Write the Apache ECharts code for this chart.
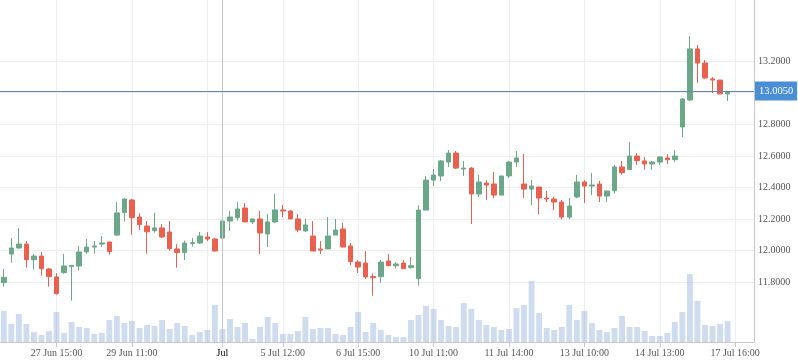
<!DOCTYPE html>
<html>
<head>
<meta charset="utf-8">
<script src="https://cdn.jsdelivr.net/npm/echarts@6/dist/echarts.min.js"></script>
<style>html,body{margin:0;padding:0;background:#fff}#c{width:798px;height:363px}</style>
</head>
<body>
<div id="c"></div>
<script>
const categories = [
'26 Jun 15:00','26 Jun 16:00',
'27 Jun 10:00','27 Jun 11:00','27 Jun 12:00','27 Jun 13:00','27 Jun 14:00','27 Jun 15:00','27 Jun 16:00',
'28 Jun 10:00','28 Jun 11:00','28 Jun 12:00','28 Jun 13:00','28 Jun 14:00','28 Jun 15:00','28 Jun 16:00',
'29 Jun 10:00','29 Jun 11:00','29 Jun 12:00','29 Jun 13:00','29 Jun 14:00','29 Jun 15:00','29 Jun 16:00',
'30 Jun 10:00','30 Jun 11:00','30 Jun 12:00','30 Jun 13:00','30 Jun 14:00','30 Jun 15:00',
'3 Jul 10:00','3 Jul 11:00','3 Jul 12:00','3 Jul 13:00','3 Jul 14:00','3 Jul 15:00',
'5 Jul 10:00','5 Jul 11:00','5 Jul 12:00','5 Jul 13:00','5 Jul 14:00','5 Jul 15:00','5 Jul 16:00',
'6 Jul 10:00','6 Jul 11:00','6 Jul 12:00','6 Jul 13:00','6 Jul 14:00','6 Jul 15:00','6 Jul 16:00',
'7 Jul 10:00','7 Jul 11:00','7 Jul 12:00','7 Jul 13:00','7 Jul 14:00','7 Jul 15:00','7 Jul 16:00',
'10 Jul 10:00','10 Jul 11:00','10 Jul 12:00','10 Jul 13:00','10 Jul 14:00','10 Jul 15:00','10 Jul 16:00',
'11 Jul 10:00','11 Jul 11:00','11 Jul 12:00','11 Jul 13:00','11 Jul 14:00','11 Jul 15:00','11 Jul 16:00',
'12 Jul 10:00','12 Jul 11:00','12 Jul 12:00','12 Jul 13:00','12 Jul 14:00','12 Jul 15:00','12 Jul 16:00',
'13 Jul 10:00','13 Jul 11:00','13 Jul 12:00','13 Jul 13:00','13 Jul 14:00','13 Jul 15:00','13 Jul 16:00',
'14 Jul 10:00','14 Jul 11:00','14 Jul 12:00','14 Jul 13:00','14 Jul 14:00','14 Jul 15:00','14 Jul 16:00',
'17 Jul 10:00','17 Jul 11:00','17 Jul 12:00','17 Jul 13:00','17 Jul 14:00','17 Jul 15:00','17 Jul 16:00',
'18 Jul 10:00','18 Jul 11:00'
];

// [open, close, low, high]
const ohlc = [
[11.798,11.831,11.772,11.884],[11.979,12.017,11.924,12.080],[12.017,12.042,12.011,12.144],[12.042,11.943,11.893,12.061],
[11.943,11.966,11.880,11.979],[11.966,11.886,11.842,11.992],[11.884,11.836,11.772,11.890],[11.834,11.728,11.722,11.859],
[11.861,11.903,11.855,11.979],[11.899,11.907,11.684,11.907],[11.903,11.992,11.874,12.030],[11.992,12.023,11.981,12.074],
[12.023,12.030,11.981,12.061],[12.042,12.049,12.023,12.093],[12.055,11.994,11.975,12.055],[12.099,12.239,12.093,12.308],
[12.241,12.327,12.184,12.334],[12.321,12.209,12.101,12.327],[12.213,12.165,12.131,12.237],[12.156,12.120,11.981,12.188],
[12.127,12.144,12.114,12.239],[12.144,12.087,12.080,12.169],[12.118,12.013,12.000,12.188],[12.011,11.988,11.893,12.042],
[11.988,12.049,11.941,12.064],[12.045,12.051,12.026,12.080],[12.049,12.093,12.042,12.118],[12.087,12.074,12.061,12.118],
[12.074,11.998,11.998,12.080],[12.080,12.188,12.064,12.258],[12.188,12.213,12.125,12.251],[12.209,12.264,12.190,12.308],
[12.270,12.182,12.182,12.302],[12.182,12.201,12.169,12.201],[12.201,12.112,11.979,12.251],[12.106,12.182,12.023,12.232],
[12.182,12.258,12.175,12.359],[12.258,12.251,12.213,12.289],[12.251,12.201,12.201,12.258],[12.201,12.131,12.118,12.232],
[12.125,12.163,12.118,12.201],[12.093,11.998,11.998,12.188],[12.011,12.004,11.979,12.061],[12.011,12.093,12.011,12.213],
[12.099,12.131,12.099,12.201],[12.137,12.023,12.023,12.175],[12.030,11.931,11.910,12.049],[11.928,11.897,11.859,11.941],
[11.922,11.834,11.821,11.998],[11.836,11.829,11.715,11.857],[11.836,11.928,11.797,11.941],[11.935,11.905,11.905,11.979],
[11.905,11.916,11.886,11.928],[11.922,11.886,11.886,11.941],[11.893,11.905,11.886,11.960],[11.823,12.257,11.779,12.287],
[12.257,12.447,12.257,12.473],[12.447,12.479,12.409,12.517],[12.473,12.568,12.441,12.574],[12.561,12.618,12.530,12.637],
[12.618,12.523,12.517,12.631],[12.517,12.523,12.473,12.568],[12.523,12.359,12.169,12.530],[12.359,12.435,12.340,12.479],
[12.428,12.416,12.321,12.447],[12.422,12.352,12.333,12.498],[12.352,12.473,12.352,12.473],[12.473,12.561,12.460,12.568],
[12.561,12.587,12.530,12.631],[12.422,12.390,12.333,12.612],[12.390,12.409,12.289,12.447],[12.403,12.333,12.232,12.403],
[12.333,12.327,12.308,12.378],[12.327,12.308,12.257,12.340],[12.308,12.213,12.201,12.321],[12.213,12.283,12.201,12.333],
[12.340,12.435,12.333,12.479],[12.435,12.409,12.302,12.447],[12.409,12.416,12.352,12.492],[12.422,12.346,12.308,12.441],
[12.346,12.378,12.308,12.378],[12.380,12.530,12.361,12.542],[12.530,12.494,12.481,12.568],[12.513,12.599,12.513,12.688],
[12.599,12.570,12.542,12.618],[12.568,12.549,12.513,12.593],[12.549,12.561,12.513,12.568],[12.561,12.593,12.542,12.599],
[12.587,12.576,12.549,12.612],[12.576,12.599,12.561,12.637],[12.783,12.960,12.720,12.966],[12.954,13.277,12.947,13.359],
[13.277,13.188,13.061,13.302],[13.188,13.093,13.087,13.207],[13.087,13.080,12.998,13.099],[13.080,12.992,12.992,13.080],
[12.992,13.005,12.947,13.007]
];

const volumes = [
31,18,28,18,10,7,11,30,9,20,15,14,8,9,22,26,19,21,14,17,16,22,13,19,16,7,10,12,37,13,
23,15,19,3,15,25,19,8,8,11,25,13,14,14,8,7,15,30,10,19,12,7,5,5,22,27,36,33,22,16,
15,39,33,22,17,15,12,13,34,37,61,29,14,12,15,37,22,31,19,12,10,14,26,15,15,11,6,6,9,20,
30,68,41,17,16,18,21
];

const labelIndices = [7, 17, 29, 37, 47, 57, 67, 77, 87, 97];
const splitIndices = [7, 17, 27, 37, 47, 57, 67, 77, 87, 97];
const monthMarkerIndex = 29;
const monthMarkerLabel = 'Jul';
const priceTicks = { min: 11.8, max: 13.2, step: 0.2 };
const lastPrice = 13.005;

const FONT = 'Liberation Serif';
const UP = '#6aa889', DOWN = '#e9604e';

const chart = echarts.init(document.getElementById('c'), null, { renderer: 'canvas' });
chart.setOption({
  animation: false,
  backgroundColor: '#fff',
  grid: [
    { left: 0, right: 44, top: 0, bottom: 21 },
    { left: 0, right: 44, top: 61.1, bottom: 80.7 }
  ],
  xAxis: [
    {
      type: 'category', gridIndex: 0, data: categories, boundaryGap: true,
      axisLine: { show: true, lineStyle: { color: '#c8c8c8' } },
      axisTick: { show: true, alignWithLabel: true, length: 5, lineStyle: { color: '#c8c8c8' },
        interval: (i) => labelIndices.indexOf(i) >= 0 },
      axisLabel: {
        interval: (i) => labelIndices.indexOf(i) >= 0,
        margin: 6, fontSize: 10, fontFamily: FONT, color: '#555',
        formatter: (v, i) => i === monthMarkerIndex ? '{m|' + monthMarkerLabel + '}' : v,
        rich: { m: { fontSize: 10, fontFamily: FONT, color: '#000' } }
      },
      splitLine: { show: true, alignWithLabel: true, interval: (i) => splitIndices.indexOf(i) >= 0,
        lineStyle: { color: '#eeeeee' } }
    },
    {
      type: 'category', gridIndex: 1, data: categories, boundaryGap: true, show: false
    }
  ],
  yAxis: [
    {
      type: 'value', gridIndex: 0, position: 'right', min: 0, max: 342,
      axisLine: { show: true, lineStyle: { color: '#c8c8c8' } },
      axisTick: { show: false }, axisLabel: { show: false }, splitLine: { show: false }
    },
    {
      type: 'value', gridIndex: 1, position: 'right', min: priceTicks.min, max: priceTicks.max, interval: priceTicks.step,
      axisLine: { show: false }, axisTick: { show: false },
      axisLabel: { margin: 4, fontSize: 10, fontFamily: FONT, color: '#555', formatter: (v) => v.toFixed(4) },
      splitLine: { show: true, lineStyle: { color: '#eeeeee' } }
    }
  ],
  series: [
    {
      type: 'bar', xAxisIndex: 0, yAxisIndex: 0, data: volumes, barWidth: '78%',
      itemStyle: { color: 'rgba(140,172,218,0.42)' }, silent: true,
      markLine: {
        silent: true, symbol: ['none', 'none'], label: { show: false },
        lineStyle: { color: '#c4c4c4', type: 'solid', width: 1 },
        data: [{ xAxis: categories[monthMarkerIndex] }]
      }
    },
    {
      type: 'candlestick', xAxisIndex: 1, yAxisIndex: 1, data: ohlc, barWidth: 5, clip: false,
      itemStyle: { color: UP, color0: DOWN, borderColor: UP, borderColor0: DOWN, borderWidth: 1 },
      markLine: {
        silent: true, symbol: ['none', 'none'],
        lineStyle: { color: '#5a86c0', type: 'solid', width: 1 },
        label: { show: true, position: 'end', distance: 1, formatter: () => lastPrice.toFixed(4),
          backgroundColor: '#4a8fd6', color: '#fff', padding: [4, 4], fontSize: 10.5, fontFamily: FONT },
        data: [{ yAxis: lastPrice }]
      }
    }
  ]
});
</script>
</body>
</html>
